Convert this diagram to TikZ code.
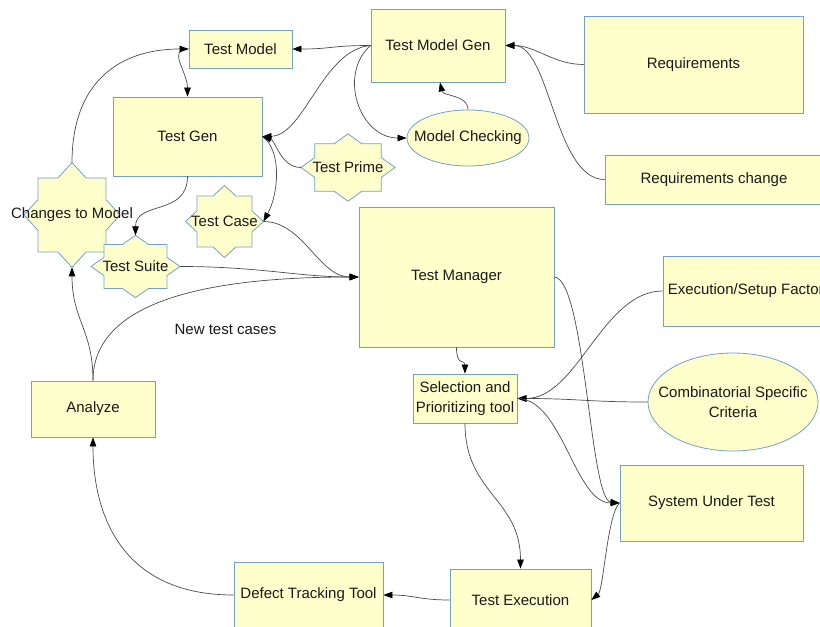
\documentclass[tikz,border=0pt]{standalone}
\usepackage{fontspec}
\setmainfont{Liberation Sans}
\usetikzlibrary{arrows.meta,shapes.geometric}

\definecolor{boxfill}{HTML}{FFFFCC}
\definecolor{boxline}{HTML}{729FCF}
\definecolor{wire}{HTML}{4A4A4A}

\tikzset{
  every node/.style={font=\fontsize{15}{19.5}\selectfont, text=black!90},
  box/.style={rectangle, draw=boxline, fill=boxfill, line width=0.8pt, inner sep=0pt, align=center},
  oval/.style={ellipse, draw=boxline, fill=boxfill, line width=0.8pt, inner sep=0pt},
  starbody/.style={draw=boxline, fill=boxfill, line width=0.8pt},
  startext/.style={rectangle, inner sep=0pt, align=center},
  link/.style={draw=wire, line width=0.7pt, -{Triangle[length=9pt,width=6.5pt,color=black,fill=black]}},
  plain/.style={align=center}
}

% Eight-pointed star (square + diamond), centred at (#2,#3),
% square half-width #4 and half-height #5; tips named #1-n/-s/-e/-w
\newcommand\octostar[6]{%
  \begin{scope}[shift={(#2,#3)}, x={(#4pt,0pt)}, y={(0pt,#5pt)}]
    \path[starbody] (0,1.414)--(0.414,1)--(1,1)--(1,0.414)--(1.414,0)--(1,-0.414)--(1,-1)
      --(0.414,-1)--(0,-1.414)--(-0.414,-1)--(-1,-1)--(-1,-0.414)--(-1.414,0)--(-1,0.414)
      --(-1,1)--(-0.414,1)--cycle;
    \coordinate (#1-n) at (0,1.414);
    \coordinate (#1-s) at (0,-1.414);
    \coordinate (#1-e) at (1.414,0);
    \coordinate (#1-w) at (-1.414,0);
  \end{scope}
  \node[startext] (#1) at (#2,#3) {#6};%
}

\begin{document}
\begin{tikzpicture}[x=1pt, y=-1pt]
\useasboundingbox (0,0) rectangle (820,627);
\clip (0,0) rectangle (820,627);
\fill[white] (0,0) rectangle (820,627);

% rectangular blocks
\node[box, minimum width=103pt, minimum height=38pt] (tm) at (240.5,49) {Test Model};
\node[box, minimum width=134pt, minimum height=73pt] (tmg) at (438,45.5) {Test Model Gen};
\node[box, minimum width=219pt, minimum height=97pt] (req) at (693.5,64.5) {Requirements};
\node[box, minimum width=218pt, minimum height=49pt] (reqc) at (714,179.5) {Requirements change};
\node[box, minimum width=149pt, minimum height=79pt] (tg) at (187.5,136.5) {Test Gen};
\node[box, minimum width=195pt, minimum height=140pt] (mgr) at (456.5,277) {Test Manager};
\node[box, minimum width=173pt, minimum height=70pt] (esf) at (749.5,291) {Execution/Setup Factors};
\node[box, minimum width=104pt, minimum height=49pt] (sel) at (465,398.5) {Selection and\\Prioritizing tool};
\node[box, minimum width=183pt, minimum height=76pt] (sut) at (711.5,503) {System Under Test};
\node[box, minimum width=141pt, minimum height=62pt] (tex) at (520.5,600) {Test Execution};
\node[box, minimum width=149pt, minimum height=66pt] (dtt) at (308.5,595) {Defect Tracking Tool};
\node[box, minimum width=124pt, minimum height=56pt] (an) at (93,409) {Analyze};

% ellipses, with their texts set on top
\node[oval, minimum width=122pt, minimum height=56pt] (mc) at (468,138) {};
\node[plain] at (mc.center) {Model Checking};
\node[oval, minimum width=170pt, minimum height=98pt] (csc) at (733,402) {};
\node[plain] at (csc.center) {Combinatorial Specific\\Criteria};

% stars
\octostar{tp}{348}{167.5}{33.3}{23.8}{Test Prime}
\octostar{tc}{224.5}{221.5}{27.5}{25.5}{Test Case}
\octostar{ctm}{72}{215}{34}{37}{Changes to Model}
\octostar{ts}{135.5}{266.5}{31.5}{22}{Test Suite}

% free label
\node[plain] (ntc) at (225.5,329) {New test cases};

% connectors
\draw[link] (tmg.west) .. controls +(-40,0) and +(40,0) .. (tm.east);
\draw[link] (tmg.west) .. controls +(-48,4) and +(42,-1) .. (tg.east);
\draw[link] (tmg.west) .. controls +(-33,29) and +(-47,0) .. (mc.west);
\draw[link] (mc.north) .. controls +(0,-15) and +(3,14) .. ([xshift=2pt]tmg.south);
\draw[link] (req.west) .. controls +(-30,0) and +(30,0) .. (tmg.east);
\draw[link] (reqc.west) .. controls +(-50,0) and +(45,0) .. (tmg.east);
\draw[link] (tm.west) .. controls +(-22,0) and +(0,-25) .. (tg.north);
\draw[link] (ctm-n) .. controls +(0,-80) and +(-70,0) .. (tm.west);
\draw[link] (tg.south) .. controls +(0,40) and +(0,-35) .. (ts-n);
\draw[link] (tg.east) .. controls +(20,14) and +(15,-27) .. (tc-e);
\draw[link] (tp-w) .. controls +(-20,0) and +(13,4) .. (tg.east);
\draw[link] (tc-e) .. controls +(40,0) and +(-40,0) .. (mgr.west);
\draw[link] (ts-e) .. controls +(80,0) and +(-60,0) .. (mgr.west);
\draw[link] (an.north) .. controls +(0,-80) and +(-150,0) .. (mgr.west);
\draw[link] (an.north) .. controls +(0,-51) and +(0,53) .. (ctm-s);
\draw[link] (mgr.south) .. controls +(0,20) and +(0,-15) .. (sel.north);
\draw[link] (mgr.east) .. controls +(31,3) and +(-30,-3) .. (sut.west);
\draw[link] (esf.west) .. controls +(-60,0) and +(60,0) .. (sel.east);
\draw[link] (csc.west) .. controls +(-60,0) and +(60,0) .. (sel.east);
\draw[link] (sel.east) .. controls +(45,0) and +(-45,0) .. (sut.west);
\draw[link] (sut.west) .. controls +(-12,10) and +(12,-10) .. (tex.east);
\draw[link] (sel.south) .. controls +(0,70) and +(0,-70) .. (tex.north);
\draw[link] (tex.west) .. controls +(-30,0) and +(30,0) .. (dtt.east);
\draw[link] (dtt.west) .. controls +(-110,0) and +(0,80) .. (an.south);
\end{tikzpicture}
\end{document}
